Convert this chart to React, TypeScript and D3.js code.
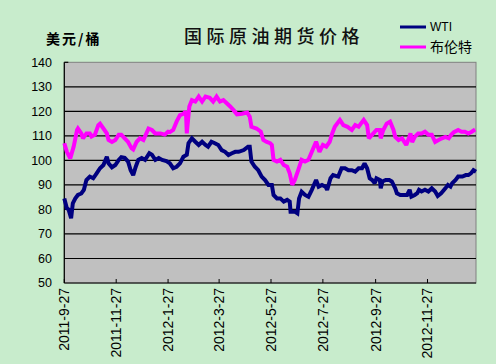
import React from "react";
import * as d3 from "d3";

const yTicks = [50, 60, 70, 80, 90, 100, 110, 120, 130, 140];
const xTickLabels = ["2011-9-27", "2011-11-27", "2012-1-27", "2012-3-27", "2012-5-27", "2012-7-27", "2012-9-27", "2012-11-27"];
const xDomain = ["2011-9-27", "2013-1-23"];

const brentDates = [
  "2011-9-27", "2011-9-30", "2011-10-4", "2011-10-8", "2011-10-12", "2011-10-13", "2011-10-17", "2011-10-19", "2011-10-23", "2011-10-27",
  "2011-10-29", "2011-11-2", "2011-11-6", "2011-11-8", "2011-11-12", "2011-11-16", "2011-11-18", "2011-11-22", "2011-11-26", "2011-11-30",
  "2011-12-3", "2011-12-7", "2011-12-11", "2011-12-15", "2011-12-17", "2011-12-21", "2011-12-25", "2011-12-29", "2012-1-4", "2012-1-8",
  "2012-1-12", "2012-1-18", "2012-1-23", "2012-1-27", "2012-1-29", "2012-2-2", "2012-2-6", "2012-2-10", "2012-2-14", "2012-2-17",
  "2012-2-18", "2012-2-21", "2012-2-24", "2012-2-28", "2012-3-3", "2012-3-7", "2012-3-11", "2012-3-16", "2012-3-20", "2012-3-24",
  "2012-3-28", "2012-4-1", "2012-4-5", "2012-4-9", "2012-4-13", "2012-4-17", "2012-4-23", "2012-4-29", "2012-5-2", "2012-5-4",
  "2012-5-10", "2012-5-15", "2012-5-18", "2012-5-22", "2012-5-26", "2012-5-28", "2012-5-30", "2012-6-3", "2012-6-7", "2012-6-11",
  "2012-6-15", "2012-6-18", "2012-6-21", "2012-6-24", "2012-6-28", "2012-7-2", "2012-7-6", "2012-7-10", "2012-7-14", "2012-7-19",
  "2012-7-23", "2012-7-27", "2012-7-31", "2012-8-4", "2012-8-7", "2012-8-10", "2012-8-16", "2012-8-20", "2012-8-25", "2012-8-30",
  "2012-9-3", "2012-9-7", "2012-9-13", "2012-9-17", "2012-9-19", "2012-9-23", "2012-9-28", "2012-10-2", "2012-10-3", "2012-10-6",
  "2012-10-10", "2012-10-14", "2012-10-18", "2012-10-20", "2012-10-24", "2012-10-28", "2012-11-2", "2012-11-5", "2012-11-7", "2012-11-9",
  "2012-11-12", "2012-11-16", "2012-11-20", "2012-11-24", "2012-11-28", "2012-12-2", "2012-12-6", "2012-12-10", "2012-12-14", "2012-12-18",
  "2012-12-22", "2012-12-25", "2012-12-28", "2013-1-2", "2013-1-6", "2013-1-10", "2013-1-14", "2013-1-18", "2013-1-22"
];
const brentValues = [
  107, 103.5, 100.8, 105.6, 112.4, 113, 111, 109, 111, 111,
  109.7, 110.5, 114.4, 115, 113, 111, 108.3, 107.5, 108.3, 110.5,
  110.5, 109, 107.5, 105, 104.5, 107.5, 109, 108.3, 113, 112.4,
  111, 111, 110.5, 111.7, 111.5, 112.4, 115.8, 118.5, 119, 120,
  111, 122, 124.6, 124, 126, 124, 126, 125.5, 124, 126,
  124, 124.6, 123.3, 122, 120.5, 118.8, 119, 119.5, 117.8, 113.7,
  113, 111.7, 108.3, 107.5, 107, 106.3, 100.2, 99.5, 100.2, 98.1,
  97.4, 94.7, 90, 92, 96, 100.2, 99.5, 100.2, 103.5, 107.6,
  103.5, 106.3, 105.6, 107.6, 111, 113.7, 116.5, 114.4, 113.7, 112.4,
  114.4, 113.7, 116.5, 114.4, 109, 110.5, 112.4, 112.4, 109, 112.4,
  115, 115.8, 112.4, 109.6, 108.3, 109, 106.3, 109, 111, 107.5,
  109.6, 111, 111, 111.7, 110.5, 110.5, 107.5, 108.3, 109, 109.6,
  109, 110.5, 111.5, 112.4, 111.7, 111.7, 111, 111.7, 112.6
];

const wtiDates = [
  "2011-9-27", "2011-9-30", "2011-10-2", "2011-10-5", "2011-10-7", "2011-10-10", "2011-10-13", "2011-10-17", "2011-10-20", "2011-10-23",
  "2011-10-27", "2011-10-31", "2011-11-4", "2011-11-8", "2011-11-12", "2011-11-16", "2011-11-18", "2011-11-22", "2011-11-26", "2011-11-30",
  "2011-12-3", "2011-12-7", "2011-12-11", "2011-12-14", "2011-12-17", "2011-12-20", "2011-12-23", "2011-12-27", "2011-12-31", "2012-1-5",
  "2012-1-8", "2012-1-12", "2012-1-16", "2012-1-20", "2012-1-25", "2012-1-29", "2012-2-2", "2012-2-6", "2012-2-10", "2012-2-14",
  "2012-2-18", "2012-2-20", "2012-2-24", "2012-2-28", "2012-3-3", "2012-3-7", "2012-3-11", "2012-3-14", "2012-3-18", "2012-3-22",
  "2012-3-26", "2012-3-30", "2012-4-3", "2012-4-7", "2012-4-11", "2012-4-15", "2012-4-19", "2012-4-25", "2012-4-30", "2012-5-2",
  "2012-5-4", "2012-5-8", "2012-5-12", "2012-5-16", "2012-5-20", "2012-5-24", "2012-5-28", "2012-5-30", "2012-6-3", "2012-6-7",
  "2012-6-11", "2012-6-15", "2012-6-18", "2012-6-19", "2012-6-24", "2012-6-27", "2012-6-29", "2012-7-2", "2012-7-6", "2012-7-10",
  "2012-7-14", "2012-7-19", "2012-7-22", "2012-7-26", "2012-7-30", "2012-8-1", "2012-8-5", "2012-8-8", "2012-8-14", "2012-8-18",
  "2012-8-22", "2012-8-26", "2012-8-30", "2012-9-3", "2012-9-7", "2012-9-11", "2012-9-14", "2012-9-17", "2012-9-20", "2012-9-23",
  "2012-9-26", "2012-9-28", "2012-10-2", "2012-10-3", "2012-10-5", "2012-10-9", "2012-10-13", "2012-10-16", "2012-10-20", "2012-10-22",
  "2012-10-26", "2012-10-30", "2012-11-3", "2012-11-6", "2012-11-8", "2012-11-12", "2012-11-15", "2012-11-17", "2012-11-20", "2012-11-24",
  "2012-11-28", "2012-12-2", "2012-12-6", "2012-12-9", "2012-12-13", "2012-12-18", "2012-12-21", "2012-12-24", "2012-12-26", "2012-12-30",
  "2013-1-2", "2013-1-7", "2013-1-11", "2013-1-14", "2013-1-17", "2013-1-20", "2013-1-23"
];
const wtiValues = [
  84.5, 80.5, 80, 76.4, 82.5, 84.5, 85.9, 86.5, 88, 92,
  93.4, 92.7, 94.7, 96.8, 98.1, 101.5, 98.8, 97.2, 98.1, 100.2,
  101.3, 101, 99.5, 96, 94, 97.4, 100.2, 101, 100.2, 102.9,
  102.3, 100.2, 101, 100.2, 99.7, 98.8, 96.8, 97.4, 98.8, 101.5,
  102.3, 107, 109, 107.6, 106.3, 107.6, 106.3, 105.6, 107.6, 107,
  106.3, 104.2, 103.5, 102.2, 102.9, 103.5, 103.5, 104.2, 105.6, 105.6,
  99.5, 97.4, 96, 93.4, 92, 90, 90, 85.9, 84.5, 84.5,
  83.2, 83.9, 83.2, 79.1, 79.1, 78.4, 84.5, 87.2, 85.9, 85.2,
  88, 92, 89.3, 90, 89.3, 88, 92.7, 94, 93.4, 96.8,
  96.8, 96, 96, 95.4, 96.8, 96.8, 98.8, 96.8, 92.7, 92,
  90.7, 92.7, 92, 88.6, 91.4, 92, 92, 91.4, 88.6, 86.6,
  85.9, 85.9, 85.9, 88, 85.2, 85.9, 86.6, 88, 87.3, 88,
  87.3, 88.6, 87.3, 85.5, 86.6, 88.6, 90, 89.3, 90.7, 92,
  93.4, 93.4, 94, 94, 94.7, 96, 95.4
];

const seriesNames = ["WTI", "布伦特"];
const seriesColors = ["#000080", "#FF00FF"];

const parseDate = (s: string) => {
  const [y, m, d] = s.split("-").map(Number);
  return new Date(y, m - 1, d);
};

export default function App() {
  const W = 496, H = 364;
  const left = 64.3, right = 476, top = 62.3, bottom = 283;
  const x = d3.scaleTime().domain(xDomain.map(parseDate)).range([left, right]);
  const y = d3.scaleLinear().domain([50, 140]).range([bottom, top]);
  const line = d3.line<[Date, number]>().x(d => x(d[0])).y(d => y(d[1]));
  const wti: [Date, number][] = wtiDates.map((s, i) => [parseDate(s), wtiValues[i]]);
  const brent: [Date, number][] = brentDates.map((s, i) => [parseDate(s), brentValues[i]]);
  const sans = "'Liberation Sans', Arial, sans-serif";
  const cjk = "'Noto Sans CJK SC', sans-serif";
  return (
    <svg width={W} height={H} style={{ position: "absolute", left: 0, top: 0 }}>
      <rect x={0} y={0} width={W} height={H} fill="#C8ECCC" />
      <rect x={left} y={top} width={right - left} height={bottom - top} fill="#C0C0C0" stroke="#808080" strokeWidth={1} />
      {yTicks.filter(t => t > 50 && t < 140).map(t => (
        <line key={t} x1={left} x2={right} y1={y(t)} y2={y(t)} stroke="#000" strokeWidth={1.2} />
      ))}
      <line x1={left} x2={left + 4} y1={y(140)} y2={y(140)} stroke="#000" strokeWidth={1.2} />
      {xTickLabels.map(s => (
        <line key={s} x1={x(parseDate(s))} x2={x(parseDate(s))} y1={bottom} y2={bottom - 4} stroke="#000" strokeWidth={1} />
      ))}
      <line x1={left} x2={left} y1={top} y2={bottom} stroke="#000" strokeWidth={1.2} />
      <line x1={left} x2={right} y1={bottom} y2={bottom} stroke="#000" strokeWidth={1.2} />
      <path d={line(wti) || ""} fill="none" stroke={seriesColors[0]} strokeWidth={4} strokeLinejoin="miter" strokeMiterlimit={2} />
      <path d={line(brent) || ""} fill="none" stroke={seriesColors[1]} strokeWidth={4} strokeLinejoin="miter" strokeMiterlimit={2} />
      {yTicks.map(t => (
        <text key={t} x={52} y={y(t)} dy="0.35em" textAnchor="end" fontFamily={sans} fontSize={12.5} fill="#000">{t}</text>
      ))}
      {xTickLabels.map(s => (
        <text key={s} transform={`translate(${x(parseDate(s))},${288}) rotate(-90)`} dy="0.35em" textAnchor="end" fontFamily={sans} fontSize={14} fill="#000">{s}</text>
      ))}
      <text x={274} y={43} textAnchor="middle" fontFamily={cjk} fontWeight={500} fontSize={18} letterSpacing={4.5} fill="#111">国际原油期货价格</text>
      <text x={46} y={44} fontFamily={cjk} fontWeight="bold" fontSize={14} letterSpacing={2} fill="#000">美元/桶</text>
      {seriesNames.map((n, i) => (
        <g key={n}>
          <line x1={400} x2={426} y1={27 + i * 20} y2={27 + i * 20} stroke={seriesColors[i]} strokeWidth={3} />
          <text x={430} y={27 + i * 20} dy="0.35em" fontFamily={i === 0 ? sans : cjk} fontSize={i === 0 ? 12 : 14} fill="#000">{n}</text>
        </g>
      ))}
    </svg>
  );
}
